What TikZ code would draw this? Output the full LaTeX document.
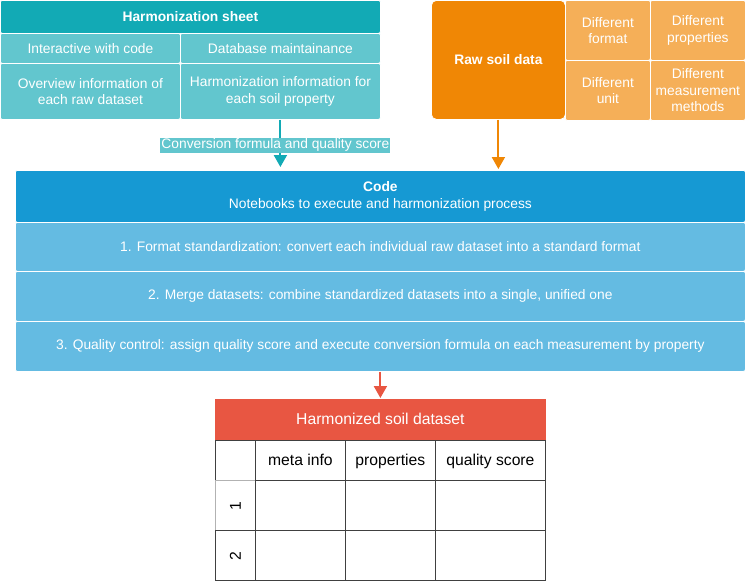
\documentclass[tikz,border=0pt]{standalone}
\usepackage{fontspec}
\setmainfont{Liberation Sans}
\usetikzlibrary{arrows,arrows.meta,positioning,calc}

\definecolor{sheetdk}{HTML}{12AAB5}
\definecolor{sheetlt}{HTML}{62C6CE}
\definecolor{rawdk}{HTML}{F08705}
\definecolor{rawlt}{HTML}{F5AF58}
\definecolor{codedk}{HTML}{1699D3}
\definecolor{codelt}{HTML}{64BBE2}
\definecolor{tabred}{HTML}{E85642}

\begin{document}
\begin{tikzpicture}[x=1pt,y=-1pt,>={Stealth[length=12pt,width=13pt,inset=0pt]},semithick]
	\tikzstyle{every node}=[font=\fontsize{13.8}{16.5}\selectfont]
	\tikzstyle{cell}=[draw=white,line width=0.8pt,rounded corners=2pt,text=white,align=center,inner sep=0pt,anchor=north west]
	\tikzstyle{tcell}=[draw=black!75,line width=0.8pt,inner sep=0pt,anchor=north west,minimum height=50,text height=12pt,text depth=2pt,font=\fontsize{15.7}{18}\selectfont]
	\tikzstyle{flow}=[->,line width=2pt]
	
	\useasboundingbox (0,0) rectangle (745,581);
	
	% harmonization sheet
	\node[cell, fill=sheetdk, minimum width=380, minimum height=33, font=\fontsize{13.8}{16.5}\selectfont\bfseries] (Sheet) at (0,0) {Harmonization sheet};
	
	\node[cell, fill=sheetlt, minimum width=180, minimum height=30] (Si) at (0,33) {Interactive with code};
	
	\node[cell, fill=sheetlt, minimum width=200, minimum height=30] (Sd) at (180,33) {Database maintainance};
	
	\node[cell, fill=sheetlt, minimum width=180, minimum height=56] (So) at (0,63) {Overview information of\\each raw dataset};
	
	\node[cell, fill=sheetlt, minimum width=200, minimum height=56] (Sh) at (180,63) {Harmonization information for\\each soil property};
	
	% raw soil data
	\node[cell, fill=rawdk, rounded corners=5pt, minimum width=134, minimum height=119, font=\fontsize{13.8}{16.5}\selectfont\bfseries] (Raw) at (431,0) {Raw soil data};
	
	\node[cell, fill=rawlt, minimum width=85, minimum height=60] (Rf) at (565,0) {Different\\format};
	
	\node[cell, fill=rawlt, minimum width=95, minimum height=60] (Rp) at (650,0) {Different\\properties};
	
	\node[cell, fill=rawlt, minimum width=85, minimum height=60] (Ru) at (565,60) {Different\\unit};
	
	\node[cell, fill=rawlt, minimum width=95, minimum height=60] (Rm) at (650,60) {Different\\measurement\\methods};
	
	% code
	\node[cell, fill=codedk, minimum width=730, minimum height=52] (Code) at (15,170) {\textbf{Code}\\Notebooks to execute and harmonization process};
	
	\node[cell, fill=codelt, minimum width=730, minimum height=49] (C1) at (15,222) {1. Format standardization: convert each individual raw dataset into a standard format};
	
	\node[cell, fill=codelt, minimum width=730, minimum height=50] (C2) at (15,271) {2. Merge datasets: combine standardized datasets into a single, unified one};
	
	\node[cell, fill=codelt, minimum width=730, minimum height=50] (C3) at (15,321) {3. Quality control: assign quality score and execute conversion formula on each measurement by property};
	
	% harmonized table
	\node[tcell, fill=tabred, draw=tabred, text=white, minimum width=330, minimum height=41] (Tab) at (215,399) {Harmonized soil dataset};
	
	\node[tcell, minimum width=40, minimum height=40] (T0) at (215,440) {};
	\node[tcell, minimum width=90, minimum height=40] (Tm) at (255,440) {meta info};
	\node[tcell, minimum width=90, minimum height=40] (Tp) at (345,440) {properties};
	\node[tcell, minimum width=110, minimum height=40] (Tq) at (435,440) {quality score};
	
	\node[tcell, draw=black!30, minimum width=40] (T1) at (215,480) {\rotatebox{90}{1}};
	\node[tcell, minimum width=90] (T1m) at (255,480) {};
	\node[tcell, minimum width=90] (T1p) at (345,480) {};
	\node[tcell, minimum width=110] (T1q) at (435,480) {};
	
	\node[tcell, minimum width=40] (T2) at (215,530) {\rotatebox{90}{2}};
	\node[tcell, minimum width=90] (T2m) at (255,530) {};
	\node[tcell, minimum width=90] (T2p) at (345,530) {};
	\node[tcell, minimum width=110] (T2q) at (435,530) {};
	
	% flows
	\draw[flow, sheetdk] (Sh.south) -- node[fill=sheetlt, text=white, inner sep=1pt, xshift=-5pt, yshift=-2pt] {Conversion formula and quality score} ($(Sh.south |- Code.north)+(0,-3)$);
	
	\draw[flow, rawdk] (Raw.south) -- ($(Raw.south |- Code.north)+(0,-1)$);
	
	\draw[flow, tabred] (C3.south) -- ($(Tab.north)+(0,-1)$);
\end{tikzpicture}
\end{document}
